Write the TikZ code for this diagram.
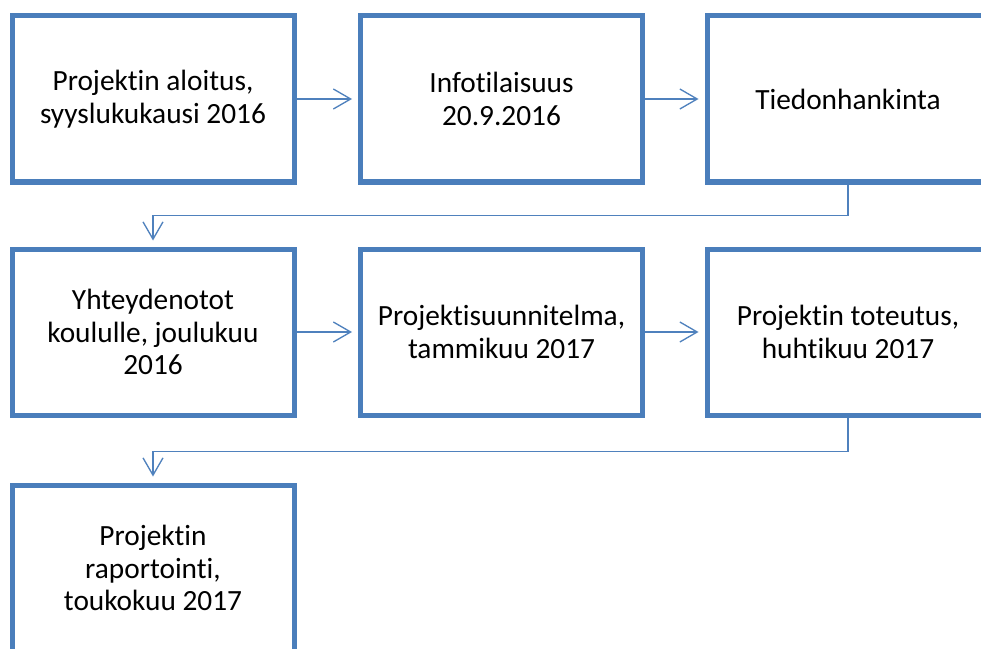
\documentclass[tikz,border=0pt]{standalone}
\usepackage{fontspec}
\setmainfont{Carlito}[Ligatures={NoCommon}]
\usetikzlibrary{arrows.meta}

\definecolor{boxblue}{RGB}{74,126,187}
\definecolor{lineblue}{RGB}{79,129,189}

\tikzset{every picture/.style={line width=0.75pt}}

\begin{document}
\begin{tikzpicture}[x=0.75pt,y=0.75pt,yscale=-1,xscale=1,
  phase/.style={draw=boxblue, line width=3.75pt, fill=white, minimum width=211.5pt, minimum height=124.5pt,
    align=center, inner sep=0pt, font=\fontsize{22}{24.5}\selectfont},
  conn/.style={draw=lineblue, line width=1pt, -{Straight Barb[length=13pt,width=15pt]}, shorten >=4.5pt}]
%set diagram size 981 x 649
\clip (0,0) rectangle (981,649);

%Shape: Rectangle, row 1
\node [phase] (aloitus) at (153,99) {Projektin aloitus,\\syyslukukausi 2016};
\node [phase] (info) at (501.5,99) {Infotilaisuus\\20.9.2016};
\node [phase] (tieto) at (848,99) {Tiedonhankinta};
%Shape: Rectangle, row 2
\node [phase] (yhteys) at (153,332) {Yhteydenotot\\koululle, joulukuu\\2016};
\node [phase] (suunnitelma) at (501.5,332) {Projektisuunnitelma,\\tammikuu 2017};
\node [phase] (toteutus) at (848,332) {Projektin toteutus,\\huhtikuu 2017};
%Shape: Rectangle, row 3
\node [phase] (raportti) at (153,568) {Projektin\\raportointi,\\toukokuu 2017};

%Straight Lines
\draw [conn] (aloitus.east) -- (info.west);
\draw [conn] (info.east) -- (tieto.west);
\draw [conn] (yhteys.east) -- (suunnitelma.west);
\draw [conn] (suunnitelma.east) -- (toteutus.west);
%Connectors between rows
\draw [conn] (tieto.south) -- ++(0,31) -| (yhteys.north);
\draw [conn] (toteutus.south) -- ++(0,34) -| (raportti.north);

\end{tikzpicture}
\end{document}
